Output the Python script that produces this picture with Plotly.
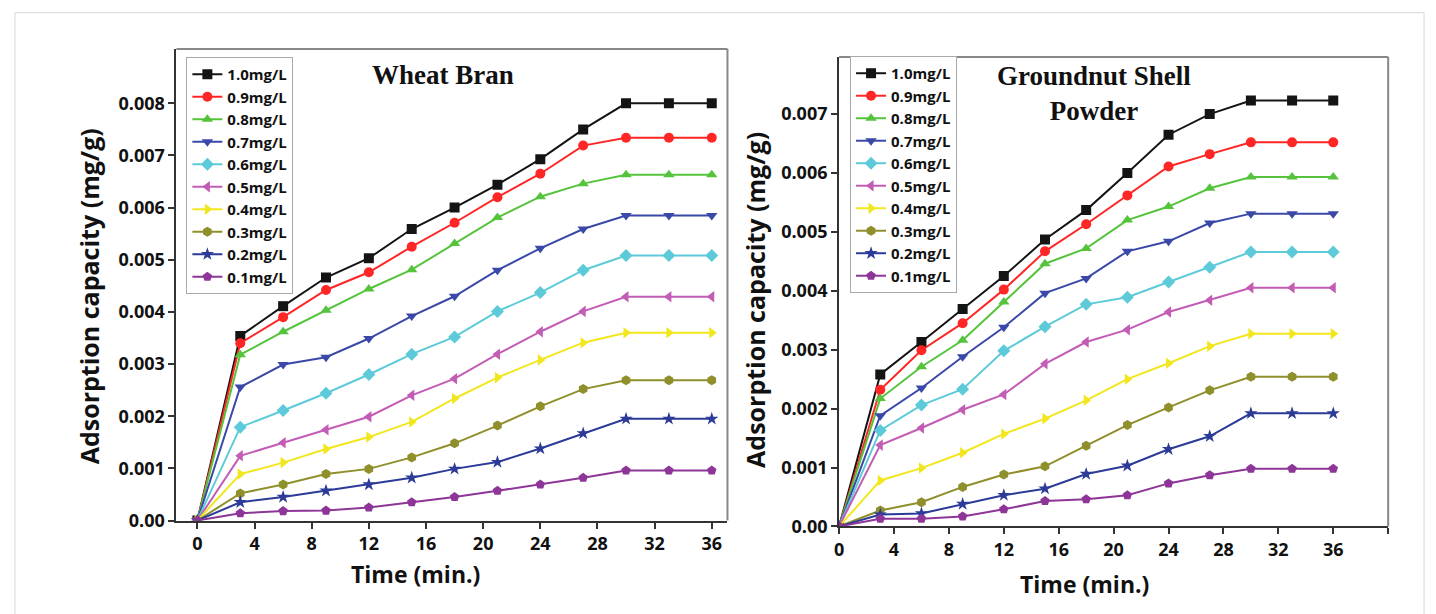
import plotly.graph_objects as go

time_min = [0, 3, 6, 9, 12, 15, 18, 21, 24, 27, 30, 33, 36]
series_names = ["1.0mg/L", "0.9mg/L", "0.8mg/L", "0.7mg/L", "0.6mg/L",
                "0.5mg/L", "0.4mg/L", "0.3mg/L", "0.2mg/L", "0.1mg/L"]
colors = ["#141414", "#ff2626", "#55c43c", "#3a48a8", "#5ccad8",
          "#c35cb4", "#f2e61e", "#8f8f2c", "#2c3a98", "#8e3598"]
symbols = ["square", "circle", "triangle-up", "triangle-down", "diamond",
           "triangle-left", "triangle-right", "hexagon", "star", "pentagon"]

# Wheat Bran (values x 0.001 mg/g)
wb_10 = [0, 3.54, 4.11, 4.66, 5.03, 5.59, 6.00, 6.44, 6.93, 7.50, 8.00, 8.00, 8.00]
wb_09 = [0, 3.40, 3.90, 4.42, 4.76, 5.25, 5.71, 6.20, 6.65, 7.19, 7.34, 7.34, 7.34]
wb_08 = [0, 3.18, 3.62, 4.03, 4.44, 4.81, 5.31, 5.81, 6.21, 6.46, 6.63, 6.63, 6.63]
wb_07 = [0, 2.56, 2.99, 3.13, 3.49, 3.92, 4.30, 4.80, 5.22, 5.59, 5.85, 5.85, 5.85]
wb_06 = [0, 1.79, 2.11, 2.44, 2.80, 3.19, 3.52, 4.01, 4.37, 4.80, 5.08, 5.08, 5.08]
wb_05 = [0, 1.24, 1.49, 1.74, 1.99, 2.40, 2.72, 3.19, 3.62, 4.01, 4.29, 4.29, 4.29]
wb_04 = [0, 0.89, 1.11, 1.37, 1.60, 1.89, 2.34, 2.74, 3.08, 3.41, 3.60, 3.60, 3.60]
wb_03 = [0, 0.52, 0.69, 0.89, 0.99, 1.21, 1.48, 1.82, 2.19, 2.52, 2.69, 2.69, 2.69]
wb_02 = [0, 0.35, 0.45, 0.57, 0.69, 0.82, 0.99, 1.12, 1.38, 1.67, 1.95, 1.95, 1.95]
wb_01 = [0, 0.14, 0.18, 0.19, 0.25, 0.35, 0.45, 0.57, 0.69, 0.82, 0.96, 0.96, 0.96]

# Groundnut Shell Powder (values x 0.001 mg/g)
gs_10 = [0, 2.58, 3.13, 3.69, 4.25, 4.87, 5.37, 6.00, 6.65, 7.00, 7.23, 7.23, 7.23]
gs_09 = [0, 2.32, 2.99, 3.45, 4.02, 4.67, 5.13, 5.62, 6.11, 6.32, 6.52, 6.52, 6.52]
gs_08 = [0, 2.17, 2.71, 3.16, 3.81, 4.46, 4.72, 5.20, 5.43, 5.74, 5.93, 5.93, 5.93]
gs_07 = [0, 1.88, 2.35, 2.88, 3.38, 3.96, 4.21, 4.67, 4.84, 5.15, 5.31, 5.31, 5.31]
gs_06 = [0, 1.63, 2.06, 2.33, 2.98, 3.39, 3.77, 3.89, 4.15, 4.40, 4.66, 4.66, 4.66]
gs_05 = [0, 1.38, 1.67, 1.98, 2.24, 2.76, 3.13, 3.34, 3.64, 3.84, 4.05, 4.05, 4.05]
gs_04 = [0, 0.78, 0.99, 1.25, 1.57, 1.83, 2.14, 2.50, 2.77, 3.06, 3.27, 3.27, 3.27]
gs_03 = [0, 0.27, 0.41, 0.67, 0.88, 1.02, 1.37, 1.72, 2.02, 2.31, 2.54, 2.54, 2.54]
gs_02 = [0, 0.20, 0.22, 0.38, 0.53, 0.64, 0.89, 1.03, 1.31, 1.53, 1.92, 1.92, 1.92]
gs_01 = [0, 0.13, 0.13, 0.17, 0.29, 0.43, 0.46, 0.53, 0.73, 0.87, 0.98, 0.98, 0.98]

wb = [wb_10, wb_09, wb_08, wb_07, wb_06, wb_05, wb_04, wb_03, wb_02, wb_01]
gs = [gs_10, gs_09, gs_08, gs_07, gs_06, gs_05, gs_04, gs_03, gs_02, gs_01]

x_ticks = [0, 4, 8, 12, 16, 20, 24, 28, 32, 36]
wb_yticks = [0, 0.001, 0.002, 0.003, 0.004, 0.005, 0.006, 0.007, 0.008]
wb_yticktext = ["0.00", "0.001", "0.002", "0.003", "0.004", "0.005", "0.006", "0.007", "0.008"]
gs_yticks = [0, 0.001, 0.002, 0.003, 0.004, 0.005, 0.006, 0.007]
gs_yticktext = ["0.00", "0.001", "0.002", "0.003", "0.004", "0.005", "0.006", "0.007"]

W, H = 1436, 614
def px(x): return x / W
def py(y): return 1 - y / H

fig = go.Figure()
for i in range(10):
    fig.add_trace(go.Scatter(
        x=time_min, y=[v * 0.001 for v in wb[i]], name=series_names[i],
        mode="lines+markers", line=dict(color=colors[i], width=2),
        marker=dict(symbol=symbols[i], size=10, color=colors[i]),
        xaxis="x", yaxis="y", legend="legend"))
for i in range(10):
    fig.add_trace(go.Scatter(
        x=time_min, y=[v * 0.001 for v in gs[i]], name=series_names[i],
        mode="lines+markers", line=dict(color=colors[i], width=2),
        marker=dict(symbol=symbols[i], size=10, color=colors[i]),
        xaxis="x2", yaxis="y2", legend="legend2"))

tickfont = dict(family="Open Sans", size=18, color="#111", weight="bold")
axis_common = dict(showgrid=False, zeroline=False, showline=True, linecolor="#333",
                   linewidth=2, ticks="outside", ticklen=6, tickwidth=2,
                   tickcolor="#333", tickfont=tickfont)

fig.update_layout(
    width=W, height=H, margin=dict(l=0, r=0, t=0, b=0),
    paper_bgcolor="white", plot_bgcolor="white",
    xaxis=dict(domain=[px(172), px(725)], range=[-1.47, 37.1], anchor="y",
               tickvals=x_ticks, **axis_common),
    yaxis=dict(domain=[py(530), py(50)], range=[0, 0.00904], anchor="x",
               tickvals=wb_yticks, ticktext=wb_yticktext, **axis_common),
    xaxis2=dict(domain=[px(837), px(1388)], range=[0, 40], anchor="y2",
                tickvals=x_ticks + [40], ticktext=[str(t) for t in x_ticks] + [""],
                **axis_common),
    yaxis2=dict(domain=[py(536), py(58)], range=[0, 0.00797], anchor="x2",
                tickvals=gs_yticks, ticktext=gs_yticktext, **axis_common),
    legend=dict(x=px(182), y=py(58), xanchor="left", yanchor="top",
                bgcolor="white", bordercolor="#aaaaaa", borderwidth=1,
                font=dict(family="Open Sans", size=15, color="#111", weight="bold"),
                itemwidth=30, tracegroupgap=0),
    legend2=dict(x=px(848), y=py(57), xanchor="left", yanchor="top",
                 bgcolor="white", bordercolor="#aaaaaa", borderwidth=1,
                 font=dict(family="Open Sans", size=15, color="#111", weight="bold"),
                 itemwidth=30, tracegroupgap=0),
    showlegend=True,
)

# frame lines (top and right) and page border
shapes = []
for (x0, x1, y0, y1) in [(172, 725, 50, 530), (837, 1388, 58, 536)]:
    shapes.append(dict(type="line", xref="paper", yref="paper",
                       x0=px(x0), x1=px(x1), y0=py(y0), y1=py(y0),
                       line=dict(color="#888", width=2)))
    shapes.append(dict(type="line", xref="paper", yref="paper",
                       x0=px(x1), x1=px(x1), y0=py(y0), y1=py(y1),
                       line=dict(color="#888", width=2)))
shapes.append(dict(type="rect", xref="paper", yref="paper",
                   x0=px(10), x1=px(1424), y0=-0.05, y1=py(13),
                   line=dict(color="#d6d6d6", width=1), layer="below"))
fig.update_layout(shapes=shapes)

title_font = dict(family="Open Sans", size=23, color="#111", weight="bold")
ytitle_font = dict(family="Open Sans", size=25, color="#111", weight="bold")
serif_font = dict(family="Liberation Serif", size=27, color="#111", weight="bold")
annotations = [
    dict(text="Time (min.)", x=px(412), y=py(584), xref="paper", yref="paper",
         showarrow=False, font=title_font, xanchor="center", yanchor="middle"),
    dict(text="Time (min.)", x=px(1083), y=py(595), xref="paper", yref="paper",
         showarrow=False, font=title_font, xanchor="center", yanchor="middle"),
    dict(text="Adsorption capacity (mg/g)", x=px(84), y=py(302), xref="paper", yref="paper",
         showarrow=False, font=ytitle_font, textangle=-90, xanchor="center", yanchor="middle"),
    dict(text="Adsorption capacity (mg/g)", x=px(752), y=py(305), xref="paper", yref="paper",
         showarrow=False, font=ytitle_font, textangle=-90, xanchor="center", yanchor="middle"),
    dict(text="Wheat Bran", x=px(440), y=py(76), xref="paper", yref="paper",
         showarrow=False, font=serif_font, xanchor="center", yanchor="middle"),
    dict(text="Groundnut Shell<br>Powder", x=px(1093), y=py(95), xref="paper", yref="paper",
         showarrow=False, font=serif_font, xanchor="center", yanchor="middle"),
]
fig.update_layout(annotations=annotations)

fig.write_html("out.html")
